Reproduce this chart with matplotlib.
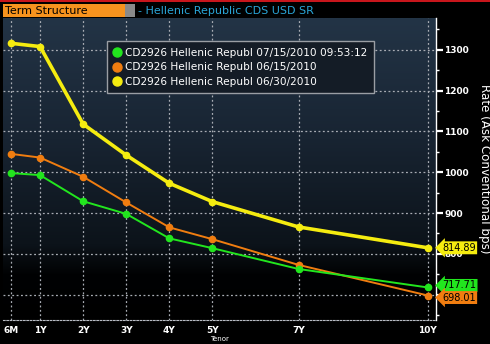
"""
CDS term structure: three snapshot curves on a dark terminal-style panel.
"""

import matplotlib
matplotlib.use("Agg")
import matplotlib.pyplot as plt
import matplotlib.transforms as mtransforms
from matplotlib.colors import LinearSegmentedColormap
from matplotlib.patches import Rectangle
from matplotlib.ticker import MultipleLocator
import numpy as np


tenor_labels = ["6M", "1Y", "2Y", "3Y", "4Y", "5Y", "7Y", "10Y"]
tenor_pos = [0.33, 1, 2, 3, 4, 5, 7, 10]

series_names = [
    "CD2926 Hellenic Republ 07/15/2010 09:53:12",
    "CD2926 Hellenic Republ 06/15/2010",
    "CD2926 Hellenic Republ 06/30/2010",
]
rates_0715 = [998, 993, 929, 898, 838, 814, 763, 717.71]
rates_0615 = [1045, 1036, 989, 926, 865, 836, 773, 698.01]
rates_0630 = [1316, 1308, 1118, 1042, 973, 928, 866, 814.89]

_GREEN = "#22e61e"
_ORANGE = "#f07d10"
_YELLOW = "#f5ec10"
_CYAN = "#2aa6d8"

W, H = 490, 344
fig = plt.figure(figsize=(W / 100, H / 100), dpi=100, facecolor="black")

# top red stripe
fig.add_artist(Rectangle((0, 1 - 2 / H), 1, 2 / H, transform=fig.transFigure,
                         color="#c8161c", lw=0))

# header: orange tab + grey stub + cyan caption
fig.add_artist(Rectangle((3 / W, 1 - 17 / H), 122 / W, 13 / H,
                         transform=fig.transFigure, color="#f7931e", lw=0))
fig.add_artist(Rectangle((125 / W, 1 - 17 / H), 10 / W, 13 / H,
                         transform=fig.transFigure, color="#8a8a8a", lw=0))
fig.text(5 / W, 1 - 10.5 / H, "Term Structure", color="black",
         fontsize=8, va="center", ha="left")
fig.text(138 / W, 1 - 10.5 / H, "- Hellenic Republic CDS USD SR", color=_CYAN,
         fontsize=8, va="center", ha="left")

ax = fig.add_axes([3 / W, 1 - 320 / H, 433 / W, 302 / H])
ax.set_facecolor("black")

# navy gradient fading to black toward the bottom
grad_cmap = LinearSegmentedColormap.from_list(
    "panel", [(0.0, "#000000"), (0.15, "#010203"), (0.25, "#0c131a"),
              (0.6, "#182432"), (1.0, "#233446")])
grad = np.linspace(0, 1, 256).reshape(-1, 1)
ax.imshow(grad, cmap=grad_cmap, aspect="auto", origin="lower",
          extent=[0, 1, 0, 1], transform=ax.transAxes, zorder=0)

ax.set_xlim(0.14, 10.19)
ax.set_ylim(638, 1378)

for rates, color, lw in [(rates_0615, _ORANGE, 1.4), (rates_0715, _GREEN, 1.4),
                         (rates_0630, _YELLOW, 2.6)]:
    ax.plot(tenor_pos, rates, color=color, lw=lw, marker="o", ms=4.5,
            zorder=3, solid_joinstyle="round")

# grid
grid_kw = dict(color="#a9adb4", lw=0.9, ls=(0, (1.5, 2)), zorder=1)
for x in tenor_pos:
    ax.axvline(x, **grid_kw)
for y in range(700, 1400, 100):
    ax.axhline(y, **grid_kw)

ax.set_xticks(tenor_pos)
ax.set_xticklabels(tenor_labels)
ax.yaxis.set_major_locator(MultipleLocator(100))
ax.yaxis.set_minor_locator(MultipleLocator(50))
ax.yaxis.tick_right()
ax.tick_params(axis="y", which="major", colors="white", length=5, width=1.6,
               labelsize=6.5, pad=1, direction="out")
ax.tick_params(axis="y", which="minor", colors="white", length=2.5, width=1)
ax.tick_params(axis="x", colors="white", length=0, labelsize=6.5, pad=4)
for lab in ax.get_xticklabels() + ax.get_yticklabels():
    lab.set_fontweight("bold")

for side in ["top", "left"]:
    ax.spines[side].set_visible(False)
ax.spines["right"].set_color("white")
ax.spines["right"].set_linewidth(1)
ax.spines["bottom"].set_color("#b8bcc4")
ax.spines["bottom"].set_linestyle((0, (1.5, 1.5)))

ax.set_xlabel("Tenor", color="white", fontsize=5, labelpad=1)
ax.yaxis.set_label_position("right")
ax.set_ylabel("Rate (Ask Conventional bps)", color="white", fontsize=8.6,
              rotation=-90, labelpad=16)

# last-value tags on the right axis
trans = mtransforms.blended_transform_factory(ax.transAxes, ax.transData)
for rates, color, dy in [(rates_0630, _YELLOW, 0), (rates_0715, _GREEN, 5),
                         (rates_0615, _ORANGE, -5)]:
    v = rates[-1]
    ax.text(1.014, v + dy, f"{v:.2f}", transform=trans, color="black",
            fontsize=7, va="center", ha="left", clip_on=False, zorder=5,
            bbox=dict(boxstyle="larrow,pad=0.15", fc=color, ec="none"))

# legend box
leg_handles = [plt.Line2D([], [], ls="none", marker="o", ms=6.5, color=c)
               for c in [_GREEN, _ORANGE, _YELLOW]]
leg = ax.legend(leg_handles, series_names, loc="upper left",
                bbox_to_anchor=(99 / 433, 1 - 18 / 302), frameon=True,
                fontsize=7.6, labelcolor="white", handlelength=0.7,
                handletextpad=0.4, borderpad=0.6, labelspacing=0.45,
                fancybox=False)
leg.get_frame().set_facecolor("#141c26")
leg.get_frame().set_edgecolor("#9a9ea4")
leg.get_frame().set_alpha(1)
leg.set_zorder(6)

fig.savefig("out.png", dpi=100, facecolor="black")
